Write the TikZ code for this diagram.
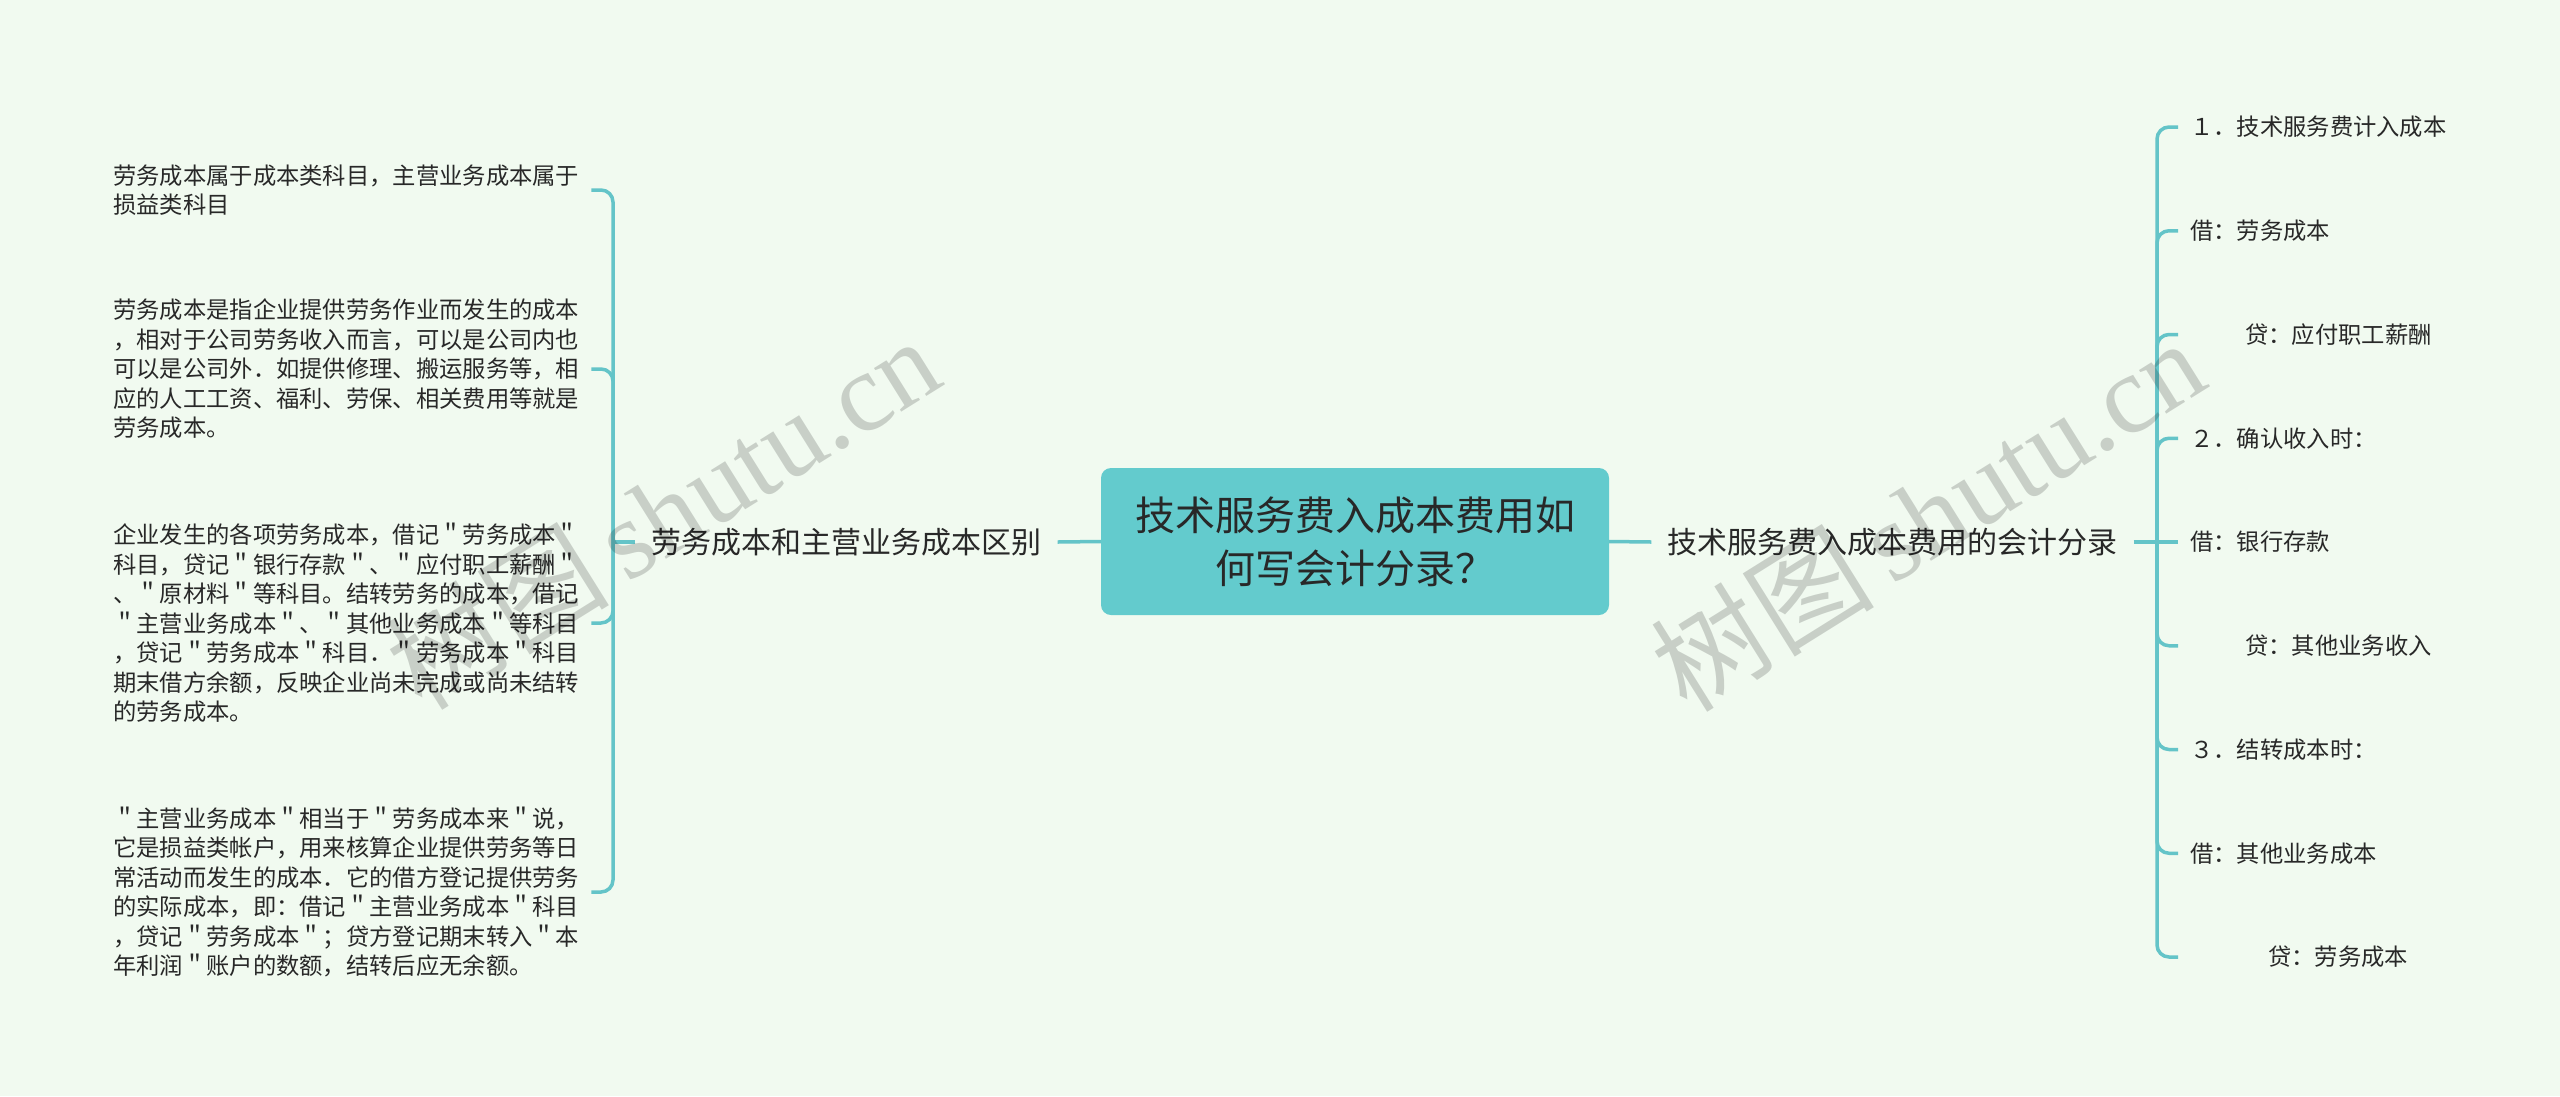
\documentclass[tikz,border=0pt]{standalone}
\usepackage{fontspec}
\setmainfont{Noto Sans CJK SC}
\newfontfamily\wmfont{Liberation Serif}
\definecolor{bgclr}{RGB}{241,250,240}
\definecolor{lineclr}{RGB}{100,196,200}
\definecolor{boxfill}{RGB}{99,203,205}
\definecolor{txtclr}{RGB}{40,40,40}
\begin{document}
\begin{tikzpicture}[x=1pt,y=-1pt,
  conn/.style={draw=lineclr, line width=3.5pt},
  elbowline/.style={conn, rounded corners=12pt},
  leaf/.style={font=\fontsize{23.3pt}{29.5pt}\selectfont, text=txtclr, align=left, inner ysep=0pt, inner xsep=12pt},
  branch/.style={font=\fontsize{30pt}{36pt}\selectfont, text=txtclr, inner xsep=16pt, inner ysep=4pt},
  rootbox/.style={rounded corners=10pt, fill=boxfill, minimum width=508pt, minimum height=147pt, inner sep=0pt, align=center, font=\fontsize{40pt}{53pt}\selectfont, text=txtclr},
  wmark/.style={rotate=32, text=black, text opacity=0.17, font=\fontsize{112pt}{120pt}\selectfont}]
\fill[bgclr] (0,0) rectangle (2560,1096);
\useasboundingbox (0,0) rectangle (2560,1096);

\node[rootbox] (root) at (1355,541.5) {技术服务费入成本费用如\\何写会计分录？};

\node[branch] (L) at (846.5,542) {劳务成本和主营业务成本区别};
\node[branch] (R) at (1892.5,542) {技术服务费入成本费用的会计分录};

\coordinate (jL) at (613,542);
\coordinate (jR) at (2157,542);

% left leaves
\node[leaf, anchor=west] (c1) at (101,190) {劳务成本属于成本类科目，主营业务成本属于\\损益类科目};
\node[leaf, anchor=west] (c2) at (101,369) {劳务成本是指企业提供劳务作业而发生的成本\\，相对于公司劳务收入而言，可以是公司内也\\可以是公司外．如提供修理、搬运服务等，相\\应的人工工资、福利、劳保、相关费用等就是\\劳务成本。};
\node[leaf, anchor=west] (c3) at (101,623) {企业发生的各项劳务成本，借记＂劳务成本＂\\科目，贷记＂银行存款＂、＂应付职工薪酬＂\\、＂原材料＂等科目。结转劳务的成本，借记\\＂主营业务成本＂、＂其他业务成本＂等科目\\，贷记＂劳务成本＂科目．＂劳务成本＂科目\\期末借方余额，反映企业尚未完成或尚未结转\\的劳务成本。};
\node[leaf, anchor=west] (c4) at (101,892) {＂主营业务成本＂相当于＂劳务成本来＂说，\\它是损益类帐户，用来核算企业提供劳务等日\\常活动而发生的成本．它的借方登记提供劳务\\的实际成本，即：借记＂主营业务成本＂科目\\，贷记＂劳务成本＂；贷方登记期末转入＂本\\年利润＂账户的数额，结转后应无余额。};

% right leaves
\node[leaf, anchor=west] (r1) at (2178,127) {１．技术服务费计入成本};
\node[leaf, anchor=west] (r2) at (2178,230.75) {借：劳务成本};
\node[leaf, anchor=west] (r3) at (2178,334.5) {\hspace*{55pt}贷：应付职工薪酬};
\node[leaf, anchor=west] (r4) at (2178,438.25) {２．确认收入时：};
\node[leaf, anchor=west] (r5) at (2178,542) {借：银行存款};
\node[leaf, anchor=west] (r6) at (2178,645.75) {\hspace*{55pt}贷：其他业务收入};
\node[leaf, anchor=west] (r7) at (2178,749.5) {３．结转成本时：};
\node[leaf, anchor=west] (r8) at (2178,853.25) {借：其他业务成本};
\node[leaf, anchor=west] (r9) at (2178,957) {\hspace*{78pt}贷：劳务成本};

% connectors
\draw[conn] (root.west) -- (L.east);
\draw[conn] (root.east) -- (R.west);
\draw[conn] (L.west) -- (jL);
\draw[conn] (R.east) -- (jR);
\foreach \c in {c1,c2,c3,c4} \draw[elbowline] (jL) |- (\c.east);
\foreach \r in {r1,r2,r3,r4,r6,r7,r8,r9} \draw[elbowline] (jR) |- (\r.west);
\draw[conn] (jR) -- (r5.west);

% watermarks
\node[wmark] (wm1) at (662,512) {树图\,{\wmfont shutu.cn}};
\node[wmark] (wm2) at (1927,514) {树图\,{\wmfont shutu.cn}};
\end{tikzpicture}
\end{document}
